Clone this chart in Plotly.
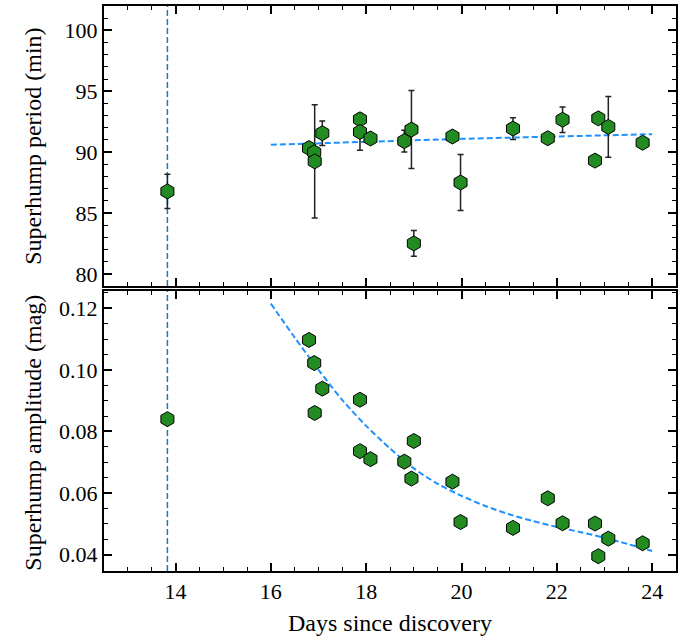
import plotly.graph_objects as go
from plotly.subplots import make_subplots

# ---- data ----
days = [13.83, 16.80, 16.91, 16.92, 17.08, 17.87, 17.87, 18.09, 18.80, 18.95,
        19.00, 19.81, 19.98, 21.08, 21.81, 22.12, 22.80, 22.87, 23.08, 23.80]
period = [86.77, 90.33, 89.98, 89.24, 91.55, 92.69, 91.66, 91.12, 90.90, 91.85,
          82.50, 91.28, 87.50, 91.93, 91.14, 92.66, 89.30, 92.77, 92.07, 90.77]
period_err = [1.4, 0.3, 0.3, 4.65, 1.0, 0.3, 1.5, 0.3, 0.9, 3.2,
              1.06, 0.3, 2.3, 0.9, 0.3, 1.05, 0.3, 0.3, 2.5, 0.3]
amplitude = [0.0840, 0.1097, 0.1022, 0.0860, 0.0939, 0.0903, 0.0736, 0.0710, 0.0702, 0.0647,
             0.0769, 0.0637, 0.0506, 0.0487, 0.0583, 0.0502, 0.0501, 0.0395, 0.0452, 0.0437]
amplitude_err = [0.0010, 0.0004, 0.0004, 0.0004, 0.0004, 0.0004, 0.0006, 0.0004, 0.0004, 0.0004,
                 0.0010, 0.0004, 0.0004, 0.0004, 0.0004, 0.0004, 0.0004, 0.0004, 0.0004, 0.0004]

period_fit_x = [16.0, 20.0, 24.0]
period_fit_y = [90.60, 91.09, 91.47]
amp_fit_x = [16.0, 16.5, 17.0, 17.5, 18.0, 18.5, 19.0, 19.5, 20.0,
             20.5, 21.0, 21.5, 22.0, 22.5, 23.0, 23.5, 24.0]
amp_fit_y = [0.1215, 0.1105, 0.1000, 0.0902, 0.0818, 0.0745, 0.0680, 0.0630, 0.0591,
             0.0558, 0.0531, 0.0509, 0.0490, 0.0473, 0.0455, 0.0434, 0.0412]

vline_day = 13.83

FONT = "Liberation Serif"
GREEN = "#228B22"

fig = make_subplots(rows=2, cols=1, shared_xaxes=True, vertical_spacing=0.0088)

marker = dict(symbol="hexagon", size=15, color=GREEN, line=dict(color="black", width=1))

fig.add_trace(go.Scatter(x=period_fit_x, y=period_fit_y, mode="lines",
                         line=dict(color="#1E90FF", width=2, dash="6px,3px")), row=1, col=1)
fig.add_trace(go.Scatter(x=days, y=period, mode="markers", marker=marker,
                         error_y=dict(type="data", array=period_err, color="#222222",
                                      thickness=1.5, width=3)), row=1, col=1)

fig.add_trace(go.Scatter(x=amp_fit_x, y=amp_fit_y, mode="lines",
                         line=dict(color="#1E90FF", width=2, dash="6px,3px", shape="spline",
                                   smoothing=0.8)),
              row=2, col=1)
fig.add_trace(go.Scatter(x=days, y=amplitude, mode="markers", marker=marker,
                         error_y=dict(type="data", array=amplitude_err, color="#222222",
                                      thickness=1.5, width=3)), row=2, col=1)

for yref in ["y domain", "y2 domain"]:
    xr = "x" if yref == "y domain" else "x2"
    fig.add_shape(type="line", xref=xr, yref=yref, x0=vline_day, x1=vline_day, y0=0, y1=1,
                  line=dict(color="#1f77b4", width=1.5, dash="6px,3px"), layer="below")

axis_common = dict(showline=True, linecolor="black", linewidth=2, mirror="allticks",
                   ticks="inside", ticklen=8, tickwidth=1.5, tickcolor="black",
                   showgrid=False, zeroline=False,
                   tickfont=dict(family=FONT, size=22, color="black"))

fig.update_xaxes(range=[12.5, 24.5], tick0=14, dtick=2,
                 minor=dict(ticks="inside", ticklen=4, tickwidth=1.2, tickcolor="black", dtick=0.5, tick0=14),
                 **axis_common)
fig.update_xaxes(showticklabels=False, row=1, col=1)
fig.update_yaxes(range=[79, 102], tick0=80, dtick=5,
                 minor=dict(ticks="inside", ticklen=4, tickwidth=1.2, tickcolor="black", dtick=1, tick0=80),
                 row=1, col=1, **axis_common)
fig.update_yaxes(range=[0.0347, 0.1256], tick0=0.04, dtick=0.02, tickformat=".2f",
                 minor=dict(ticks="inside", ticklen=4, tickwidth=1.2, tickcolor="black", dtick=0.005, tick0=0.04),
                 row=2, col=1, **axis_common)

fig.add_annotation(text="Days since discovery", xref="paper", yref="paper", x=0.5, y=-0.092,
                   xanchor="center", yanchor="middle", showarrow=False,
                   font=dict(family=FONT, size=24, color="black"))
fig.add_annotation(text="Superhump period (min)", xref="paper", yref="paper", x=-0.124, y=0.751,
                   xanchor="center", yanchor="middle", textangle=-90, showarrow=False,
                   font=dict(family=FONT, size=24, color="black"))
fig.add_annotation(text="Superhump amplitude (mag)", xref="paper", yref="paper", x=-0.124, y=0.245,
                   xanchor="center", yanchor="middle", textangle=-90, showarrow=False,
                   font=dict(family=FONT, size=24, color="black"))

fig.update_layout(width=692, height=644, margin=dict(l=104, r=16, t=4, b=73),
                  plot_bgcolor="white", paper_bgcolor="white", showlegend=False)

fig.write_html("out.html")
